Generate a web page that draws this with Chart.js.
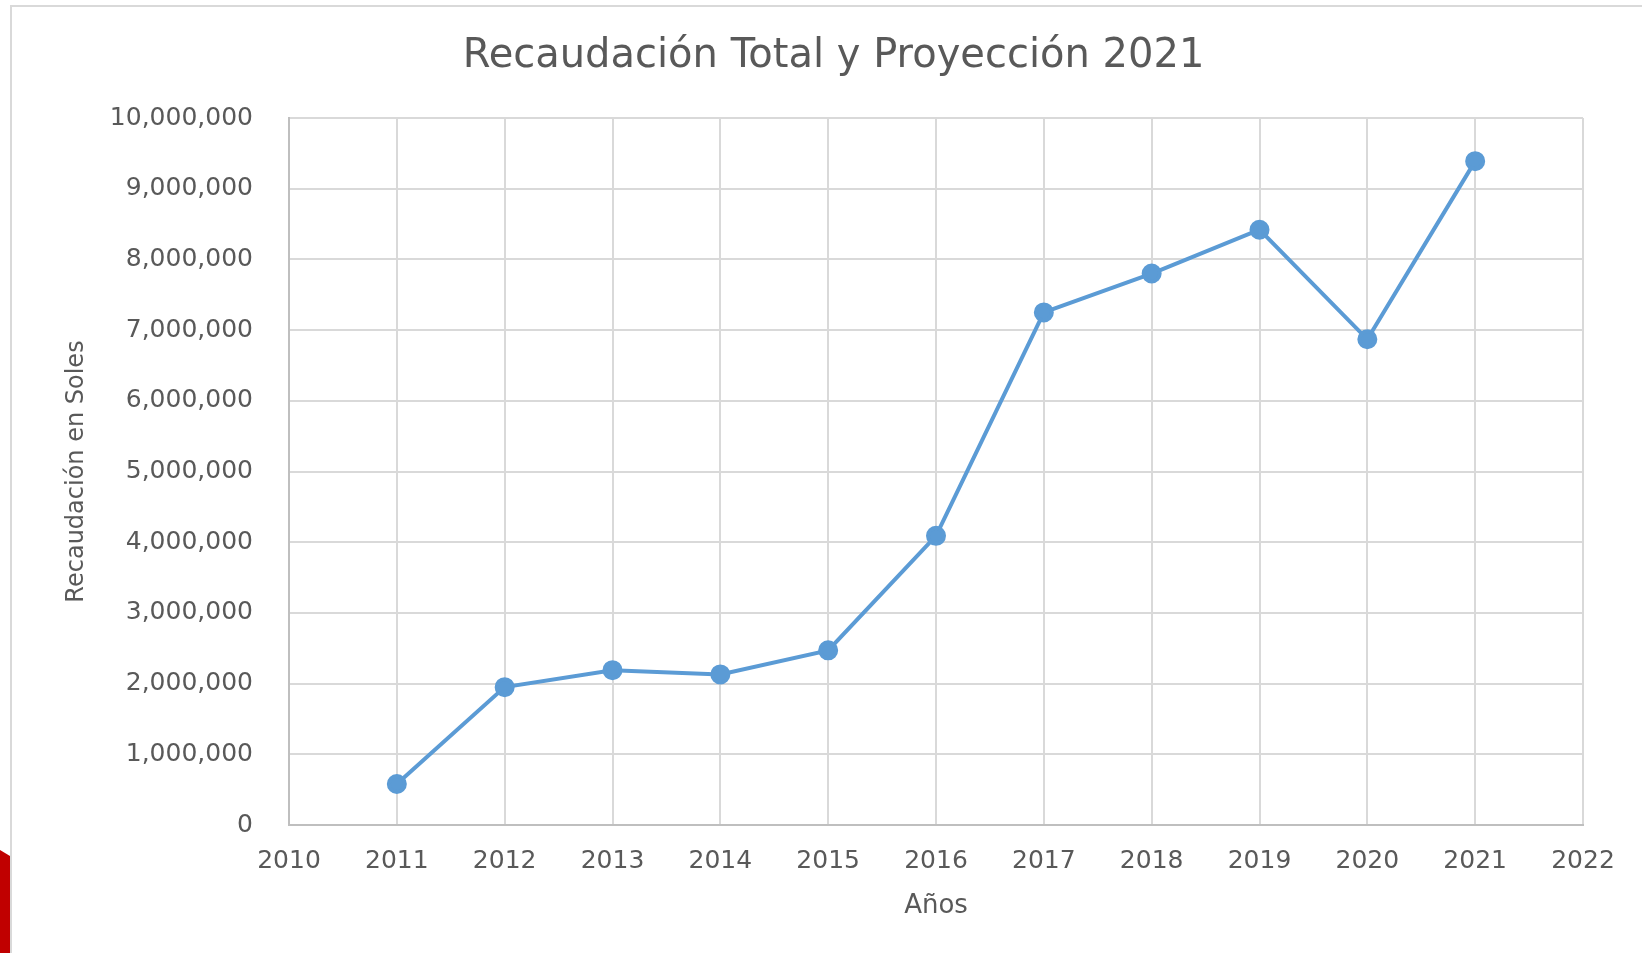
<!DOCTYPE html>
<html>
<head>
<meta charset="utf-8">
<script src="https://cdn.jsdelivr.net/npm/chart.js@4"></script>
<style>
  body { margin: 0; background: #fff; }
  #wrap { position: relative; width: 1642px; height: 953px; }
</style>
</head>
<body>
<div id="wrap"><canvas id="myChart" width="1642" height="953"></canvas></div>
<script>
// data
const years = [2011, 2012, 2013, 2014, 2015, 2016, 2017, 2018, 2019, 2020, 2021];
const recaudacion = [580000, 1950000, 2190000, 2130000, 2470000, 4090000, 7250000, 7800000, 8420000, 6870000, 9390000];
const xMin = 2010, xMax = 2022;
const yMax = 10000000, yStep = 1000000;

const points = years.map((y, i) => ({ x: y, y: recaudacion[i] }));

const textColor = '#595959';
const fontFam = "'DejaVu Sans', sans-serif";

// frame + red strip around the picture
const framePlugin = {
  id: 'frame',
  beforeDraw(chart) {
    const c = chart.ctx;
    c.save();
    c.fillStyle = '#fff';
    c.fillRect(0, 0, chart.width, chart.height);
    c.strokeStyle = '#d9d9d9';
    c.lineWidth = 2;
    c.beginPath();
    c.moveTo(11, 953);
    c.lineTo(11, 6);
    c.lineTo(1642, 6);
    c.stroke();
    c.fillStyle = '#c00000';
    c.beginPath();
    c.moveTo(0, 850);
    c.lineTo(10, 856);
    c.lineTo(10, 953);
    c.lineTo(0, 953);
    c.closePath();
    c.fill();
    c.restore();
  }
};

const ctx = document.getElementById('myChart');
new Chart(ctx, {
  type: 'line',
  data: {
    datasets: [{
      label: 'Recaudación',
      data: points,
      borderColor: '#5B9BD5',
      backgroundColor: '#5B9BD5',
      borderWidth: 4,
      pointRadius: 8,
      pointHoverRadius: 8,
      tension: 0
    }]
  },
  options: {
    responsive: false,
    animation: false,
    // left padding is wider so the title sits a bit right of the canvas middle
    layout: { padding: { left: 84, right: 59, top: 33, bottom: 31 } },
    plugins: {
      legend: { display: false },
      tooltip: { enabled: false },
      title: {
        display: true,
        text: 'Recaudación Total y Proyección 2021',
        color: textColor,
        font: { family: fontFam, size: 40, weight: 'normal' },
        padding: { top: 0, bottom: 37 }
      }
    },
    scales: {
      x: {
        type: 'linear',
        min: xMin,
        max: xMax,
        grid: { color: '#d9d9d9', lineWidth: 2, drawTicks: false },
        border: { color: '#bfbfbf', width: 2 },
        afterFit: s => { s.height = 97; },
        ticks: {
          stepSize: 1,
          autoSkip: false,
          maxRotation: 0,
          padding: 21,
          color: textColor,
          font: { family: fontFam, size: 25 },
          callback: v => String(v)
        },
        title: {
          display: true,
          text: 'Años',
          color: textColor,
          font: { family: fontFam, size: 26 },
          padding: { top: 0, bottom: 0 }
        }
      },
      y: {
        min: 0,
        max: yMax,
        grid: { color: '#d9d9d9', lineWidth: 2, drawTicks: false },
        border: { color: '#bfbfbf', width: 2 },
        afterFit: s => { s.width = 205; },
        ticks: {
          stepSize: yStep,
          padding: 36,
          color: textColor,
          font: { family: fontFam, size: 25 },
          callback: v => v.toLocaleString('en-US')
        },
        title: {
          display: true,
          text: 'Recaudación en Soles',
          color: textColor,
          font: { family: fontFam, size: 24 },
          padding: { top: -22, bottom: 0 }
        }
      }
    }
  },
  plugins: [framePlugin]
});
</script>
</body>
</html>
